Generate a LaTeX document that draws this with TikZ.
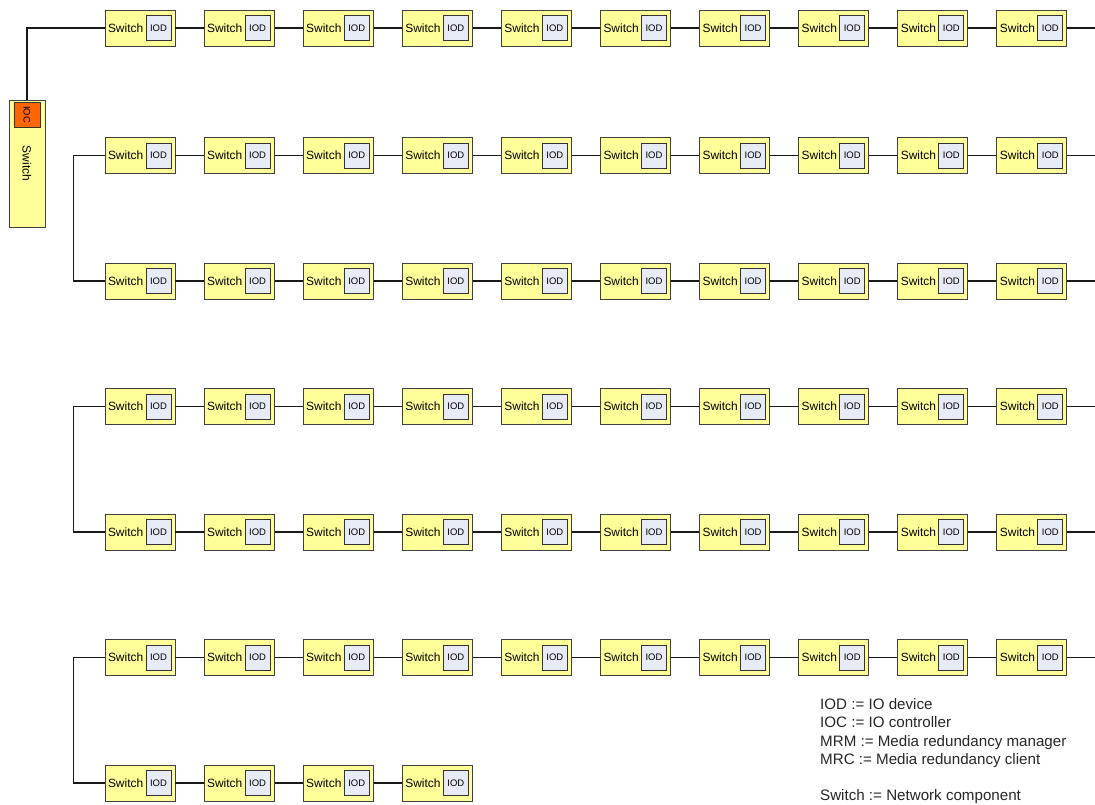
\documentclass[tikz,border=0pt]{standalone}
\usepackage{fontspec}
\setmainfont{Liberation Sans}
\usetikzlibrary{positioning}
\definecolor{swyellow}{RGB}{255,255,153}
\definecolor{iodblue}{RGB}{231,235,246}
\definecolor{iocorange}{RGB}{255,102,0}
\tikzset{
  swbox/.style  = {draw=black!75, fill=swyellow, line width=0.9bp, minimum width=70bp,
                   minimum height=36bp, inner sep=3bp, text width=64bp, align=left,
                   font=\fontsize{12}{14}\selectfont},
  iodbox/.style = {draw=black!80, fill=iodblue, line width=0.9bp, minimum width=25bp,
                   minimum height=25bp, inner sep=0pt, font=\fontsize{9.5}{11}\selectfont},
  iocbox/.style = {draw=black!80, fill=iocorange, line width=0.9bp, minimum width=26bp,
                   minimum height=25bp, inner sep=0pt, font=\fontsize{9.5}{11}\selectfont},
  link/.style   = {line width=1.1bp, black!90},
  legend/.style = {font=\fontsize{15.2}{18.5}\selectfont, align=left, anchor=north west,
                   inner sep=0pt, text=black!85},
}
\newcommand{\switchiod}[3]{%
  \node[swbox] (sw-#1) at (#2,#3) {Switch};
  \node[iodbox, anchor=east] (iod-#1) at ([xshift=-4bp]sw-#1.east) {IOD};
}

\begin{document}
\begin{tikzpicture}[x=1bp, y=-1bp]
  \useasboundingbox (0,0) rectangle (1095,805);
  % controller
  \node[swbox, text width=, minimum width=36bp, minimum height=127bp, inner sep=0pt]
    (ioc-sw) at (27,163.5) {\rotatebox{-90}{Switch}};
  \node[iocbox] (ioc) at (27,114.5) {\rotatebox{-90}{IOC}};
  % full rows
  \foreach \r/\y in {1/28, 2/155.5, 3/281, 4/406.5, 5/532, 6/657.5} {
    \foreach \c in {1,...,10} {
      \pgfmathsetmacro{\xc}{140+99.1*(\c-1)}
      \switchiod{\r-\c}{\xc}{\y}
    }
    \foreach \c [evaluate=\c as \n using int(\c+1)] in {1,...,9}
      \draw[link] (sw-\r-\c) -- (sw-\r-\n);
    \coordinate (end-\r) at (1095,\y);
    \draw[link] (sw-\r-10) -- (end-\r);
  }
  % last row
  \foreach \c in {1,...,4} {
    \pgfmathsetmacro{\xc}{140+99.1*(\c-1)}
    \switchiod{7-\c}{\xc}{783}
  }
  \foreach \c [evaluate=\c as \n using int(\c+1)] in {1,...,3}
    \draw[link] (sw-7-\c) -- (sw-7-\n);
  % ring closures
  \draw[link] (ioc-sw.north) |- (sw-1-1.west);
  \draw[link] (sw-2-1.west) -- +(-31,0) |- (sw-3-1.west);
  \draw[link] (sw-4-1.west) -- +(-31,0) |- (sw-5-1.west);
  \draw[link] (sw-6-1.west) -- +(-31,0) |- (sw-7-1.west);
  % legend
  \node[legend] (key) at (820,698) {IOD := IO device\\
    IOC := IO controller\\
    MRM := Media redundancy manager\\
    MRC := Media redundancy client\\[18bp]
    Switch := Network component};
\end{tikzpicture}
\end{document}
